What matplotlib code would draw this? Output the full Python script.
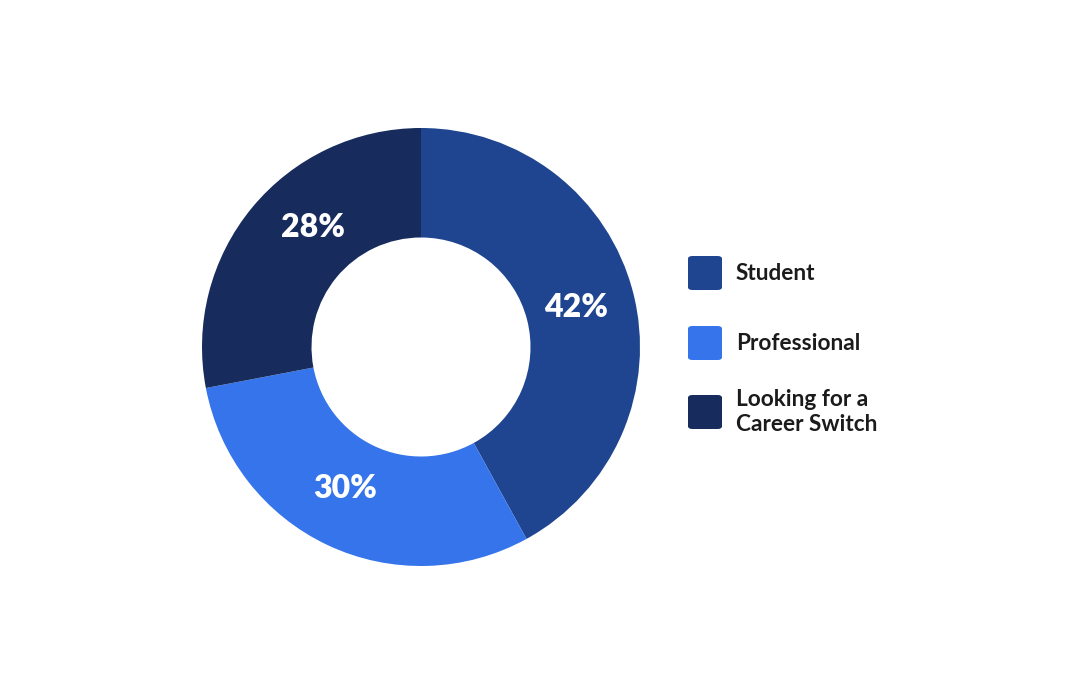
import matplotlib

matplotlib.use("Agg")
import matplotlib.pyplot as plt
from matplotlib.patches import FancyBboxPatch

labels = ["Student", "Professional", "Looking for a\nCareer Switch"]
shares = [42, 30, 28]
colors = ["#1F4591", "#3574EA", "#172B5C"]

plt.rcParams["font.family"] = ["Lato", "DejaVu Sans"]

W, H = 1080, 694
fig = plt.figure(figsize=(W / 100, H / 100), dpi=100)
fig.patch.set_facecolor("white")

# donut: centre (421, 347) px, outer radius 219 px
cx, cy, r = 421, 347, 219
ax = fig.add_axes([(cx - r) / W, (H - cy - r) / H, 2 * r / W, 2 * r / H])
wedges, _, autotexts = ax.pie(
    shares, colors=colors, startangle=90, counterclock=False,
    wedgeprops=dict(width=0.5, linewidth=0),
    autopct=lambda p: f"{p:.0f}%", pctdistance=0.75,
    textprops=dict(color="white", fontsize=23, fontweight="heavy"),
)
# small pixel nudges so labels sit where the original tool put them
nudges = [(-4, 1), (-6, -7), (19, -15)]
for t, (dx, dy) in zip(autotexts, nudges):
    x, y = t.get_position()
    t.set_position((x + dx / r, y - dy / r))

ax.set_xlim(-1, 1)
ax.set_ylim(-1, 1)
ax.set_aspect("equal")
ax.axis("off")

# legend drawn by hand to get rounded swatches
box_x, box_w = 688, 34
rows_y = [273, 343, 412]
for label, color, y in zip(labels, colors, rows_y):
    patch = FancyBboxPatch(
        (box_x / W, (H - y - box_w / 2) / H), box_w / W, box_w / H,
        boxstyle="round,pad=0,rounding_size=0.004",
        transform=fig.transFigure, facecolor=color, edgecolor="none",
    )
    fig.patches.append(patch)
    fig.text(736 / W, (H - y) / H, label, fontsize=16.3, fontweight="bold",
             color="#1B1B1B", va="center", ha="left", linespacing=1.25)

fig.savefig("out.png", dpi=100, facecolor="white")
